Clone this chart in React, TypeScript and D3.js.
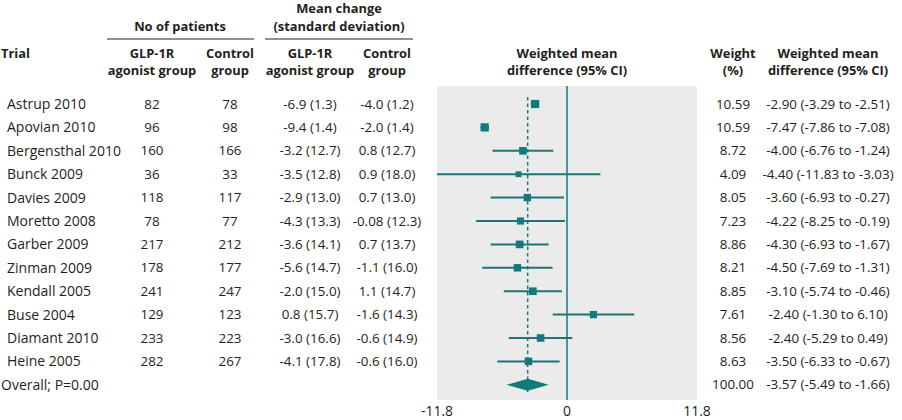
import React from "react";
import * as d3 from "d3";

const trials = ["Astrup 2010","Apovian 2010","Bergensthal 2010","Bunck 2009","Davies 2009","Moretto 2008","Garber 2009","Zinman 2009","Kendall 2005","Buse 2004","Diamant 2010","Heine 2005"];
const glpN = ["82","96","160","36","118","78","217","178","241","129","233","282"];
const ctrlN = ["78","98","166","33","117","77","212","177","247","123","223","267"];
const glpMean = ["-6.9 (1.3)","-9.4 (1.4)","-3.2 (12.7)","-3.5 (12.8)","-2.9 (13.0)","-4.3 (13.3)","-3.6 (14.1)","-5.6 (14.7)","-2.0 (15.0)","0.8 (15.7)","-3.0 (16.6)","-4.1 (17.8)"];
const ctrlMean = ["-4.0 (1.2)","-2.0 (1.4)","0.8 (12.7)","0.9 (18.0)","0.7 (13.0)","-0.08 (12.3)","0.7 (13.7)","-1.1 (16.0)","1.1 (14.7)","-1.6 (14.3)","-0.6 (14.9)","-0.6 (16.0)"];
const weights = ["10.59","10.59","8.72","4.09","8.05","7.23","8.86","8.21","8.85","7.61","8.56","8.63"];
const weightValues = [10.59,10.59,8.72,4.09,8.05,7.23,8.86,8.21,8.85,7.61,8.56,8.63];
const ciLabels = ["-2.90 (-3.29 to -2.51)","-7.47 (-7.86 to -7.08)","-4.00 (-6.76 to -1.24)","-4.40 (-11.83 to -3.03)","-3.60 (-6.93 to -0.27)","-4.22 (-8.25 to -0.19)","-4.30 (-6.93 to -1.67)","-4.50 (-7.69 to -1.31)","-3.10 (-5.74 to -0.46)","-2.40 (-1.30 to 6.10)","-2.40 (-5.29 to 0.49)","-3.50 (-6.33 to -0.67)"];
// plotted values (as drawn)
const est = [-2.90,-7.47,-4.00,-4.40,-3.60,-4.22,-4.30,-4.50,-3.10,2.40,-2.40,-3.50];
const lo = [-3.29,-7.86,-6.76,-11.83,-6.93,-8.25,-6.93,-7.69,-5.74,-1.30,-5.29,-6.33];
const hi = [-2.51,-7.08,-1.24,3.03,-0.27,-0.19,-1.67,-1.31,-0.46,6.10,0.49,-0.67];
const overallLabel = "Overall; P=0.00";
const overallWeight = "100.00";
const overallCI = "-3.57 (-5.49 to -1.66)";
const overall = { est: -3.57, lo: -5.49, hi: -1.66 };
const axisTicks = [-11.8, 0, 11.8];
const axisTickLabels = ["-11.8", "0", "11.8"];

export default function App() {
  const W = 902, H = 420;
  const x = d3.scaleLinear().domain([-11.8, 11.8]).range([437, 697]);
  const y = d3.scaleLinear().domain([0, 12]).range([104, 384.8]);
  const size = d3.scaleSqrt().domain([0, 10.59]).range([2, 8.2]);
  const teal = "#137a7c";
  const line = "#1f7476";
  const txt = "#231f20";
  const font = "'Open Sans', sans-serif";
  const fs = 14;
  const nfs = 13.4;
  const hfs = 12.9;
  const clip = (v: number) => Math.max(-11.8, Math.min(11.8, v));
  const colC = { glp: 152, ctrl: 230, gm: 310, cm: 387, w: 733, ci: 828 };
  const headerBold = { fontWeight: 700, fontSize: hfs, fill: txt, fontFamily: font } as const;
  const diamond = `M${x(overall.lo)},${y(12)} L${x(overall.est)},${y(12) - 6} L${x(overall.hi)},${y(12)} L${x(overall.est)},${y(12) + 6} Z`;
  return (
    <svg width={W} height={H} style={{ position: "absolute", left: 0, top: 0, background: "#fff" }} fontFamily={font}>
      <rect x={x(-11.8)} y={86} width={x(11.8) - x(-11.8)} height={314} fill="#ebebeb" />
      {/* headers */}
      <g textAnchor="middle" {...headerBold}>
        <text x={339} y={13}>Mean change</text>
        <text x={339} y={31}>(standard deviation)</text>
        <text x={180} y={31}>No of patients</text>
        <text x={colC.glp} y={58}>GLP-1R</text>
        <text x={colC.glp} y={75}>agonist group</text>
        <text x={colC.ctrl} y={58}>Control</text>
        <text x={colC.ctrl} y={75}>group</text>
        <text x={colC.gm} y={58}>GLP-1R</text>
        <text x={colC.gm} y={75}>agonist group</text>
        <text x={colC.cm} y={58}>Control</text>
        <text x={colC.cm} y={75}>group</text>
        <text x={x(0)} y={58}>Weighted mean</text>
        <text x={x(0)} y={75}>difference (95% CI)</text>
        <text x={colC.w} y={58}>Weight</text>
        <text x={colC.w} y={75}>(%)</text>
        <text x={colC.ci} y={58}>Weighted mean</text>
        <text x={colC.ci} y={75}>difference (95% CI)</text>
      </g>
      <text x={1} y={58} {...headerBold}>Trial</text>
      <line x1={107} x2={254} y1={39} y2={39} stroke={txt} strokeWidth={1} />
      <line x1={265} x2={413} y1={39} y2={39} stroke={txt} strokeWidth={1} />
      {/* rows */}
      <g fontSize={nfs} fill={txt}>
        {trials.map((t, i) => (
          <g key={t}>
            <text x={7} y={y(i)} dy="0.35em" fontSize={fs}>{t}</text>
            <text x={colC.glp} y={y(i)} dy="0.35em" textAnchor="middle">{glpN[i]}</text>
            <text x={colC.ctrl} y={y(i)} dy="0.35em" textAnchor="middle">{ctrlN[i]}</text>
            <text x={colC.gm} y={y(i)} dy="0.35em" textAnchor="middle">{glpMean[i]}</text>
            <text x={colC.cm} y={y(i)} dy="0.35em" textAnchor="middle">{ctrlMean[i]}</text>
            <text x={colC.w} y={y(i)} dy="0.35em" textAnchor="middle">{weights[i]}</text>
            <text x={colC.ci} y={y(i)} dy="0.35em" textAnchor="middle">{ciLabels[i]}</text>
          </g>
        ))}
        <text x={1} y={y(12)} dy="0.35em" fontSize={fs}>{overallLabel}</text>
        <text x={colC.w} y={y(12)} dy="0.35em" textAnchor="middle">{overallWeight}</text>
        <text x={colC.ci} y={y(12)} dy="0.35em" textAnchor="middle">{overallCI}</text>
      </g>
      {/* zero line */}
      <line x1={x(0)} x2={x(0)} y1={86} y2={400} stroke={teal} strokeWidth={1.5} />
      {/* overall dotted line */}
      <line x1={x(overall.est)} x2={x(overall.est)} y1={97} y2={392} stroke={line} strokeWidth={1.5} strokeDasharray="3.5,3" />
      {/* CIs and markers */}
      {trials.map((t, i) => {
        const s = size(weightValues[i]);
        return (
          <g key={t}>
            <line x1={x(clip(lo[i]))} x2={x(clip(hi[i]))} y1={y(i)} y2={y(i)} stroke={line} strokeWidth={2} />
            <rect x={x(est[i]) - s / 2} y={y(i) - s / 2} width={s} height={s} fill={teal} />
          </g>
        );
      })}
      <path d={diamond} fill={teal} />
      {/* axis labels */}
      <g fontSize={fs} fill={txt} textAnchor="middle">
        {axisTicks.map((v, i) => (
          <text key={v} x={x(v)} y={411} dy="0.35em">{axisTickLabels[i]}</text>
        ))}
      </g>
    </svg>
  );
}
